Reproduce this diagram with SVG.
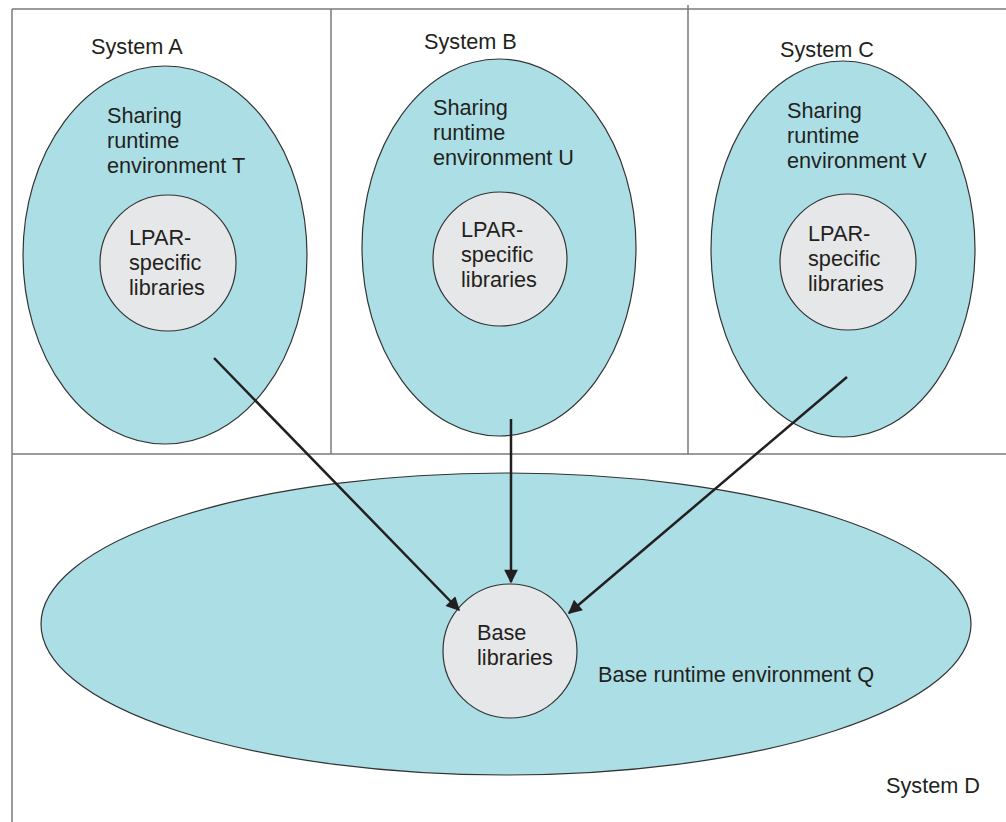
<svg xmlns="http://www.w3.org/2000/svg" width="1006" height="822" viewBox="0 0 1006 822">
<defs>
<style>
.frame{stroke:#7a7a7a;stroke-width:1.5;fill:none}
.env{fill:#acdfe5;stroke:#333;stroke-width:1.2}
.lib{fill:#e6e7e9;stroke:#333;stroke-width:1.2}
.t{font-family:"Liberation Sans",Arial,sans-serif;font-size:21.7px;fill:#231f20}
.arr{stroke:#231f20;stroke-width:2.5;fill:none;marker-end:url(#ah)}
</style>
<marker id="ah" viewBox="0 0 10 10" refX="9" refY="5" markerWidth="6.5" markerHeight="5.5" orient="auto" markerUnits="strokeWidth">
<path d="M0,0 L10,5 L0,10 Z" fill="#231f20"/>
</marker>
</defs>
<rect width="1006" height="822" fill="#fff"/>
<g id="frame">
<line class="frame" x1="12" y1="9" x2="1006" y2="9"/>
<line class="frame" x1="12" y1="9" x2="12" y2="822"/>
<line class="frame" x1="331" y1="9" x2="331" y2="454"/>
<line class="frame" x1="688" y1="5" x2="688" y2="454"/>
<line class="frame" x1="12" y1="454" x2="1006" y2="454"/>
</g>
<g id="systemA">
<ellipse class="env" cx="165" cy="255" rx="142" ry="189"/>
<text class="t" x="91" y="54">System A</text>
<text class="t" x="107" y="123">Sharing</text>
<text class="t" x="107" y="148">runtime</text>
<text class="t" x="107" y="173">environment T</text>
</g>
<g id="libA">
<circle class="lib" cx="168" cy="263" r="68"/>
<text class="t" x="129" y="245">LPAR-</text>
<text class="t" x="129" y="270">specific</text>
<text class="t" x="129" y="295">libraries</text>
</g>
<g id="systemB">
<ellipse class="env" cx="499" cy="247.5" rx="137" ry="188.5"/>
<text class="t" x="424" y="49">System B</text>
<text class="t" x="433" y="115">Sharing</text>
<text class="t" x="433" y="140">runtime</text>
<text class="t" x="433" y="165">environment U</text>
</g>
<g id="libB">
<circle class="lib" cx="500" cy="259" r="67"/>
<text class="t" x="461" y="237">LPAR-</text>
<text class="t" x="461" y="262">specific</text>
<text class="t" x="461" y="287">libraries</text>
</g>
<g id="systemC">
<ellipse class="env" cx="843" cy="249" rx="132" ry="188"/>
<text class="t" x="780" y="57">System C</text>
<text class="t" x="787" y="118">Sharing</text>
<text class="t" x="787" y="143">runtime</text>
<text class="t" x="787" y="168">environment V</text>
</g>
<g id="libC">
<circle class="lib" cx="848" cy="262" r="68"/>
<text class="t" x="808" y="241">LPAR-</text>
<text class="t" x="808" y="266">specific</text>
<text class="t" x="808" y="291">libraries</text>
</g>
<g id="systemD">
<ellipse class="env" cx="506" cy="624" rx="465" ry="151"/>
<text class="t" x="886" y="793">System D</text>
<text class="t" x="598" y="682">Base runtime environment Q</text>
</g>
<g id="baseLib">
<circle class="lib" cx="510" cy="651" r="67"/>
<text class="t" x="477" y="640">Base</text>
<text class="t" x="477" y="665">libraries</text>
</g>
<g id="connectors">
<line class="arr" x1="214" y1="358" x2="459" y2="610"/>
<line class="arr" x1="511" y1="419" x2="511" y2="582"/>
<line class="arr" x1="847" y1="377" x2="569" y2="613"/>
</g>
</svg>
